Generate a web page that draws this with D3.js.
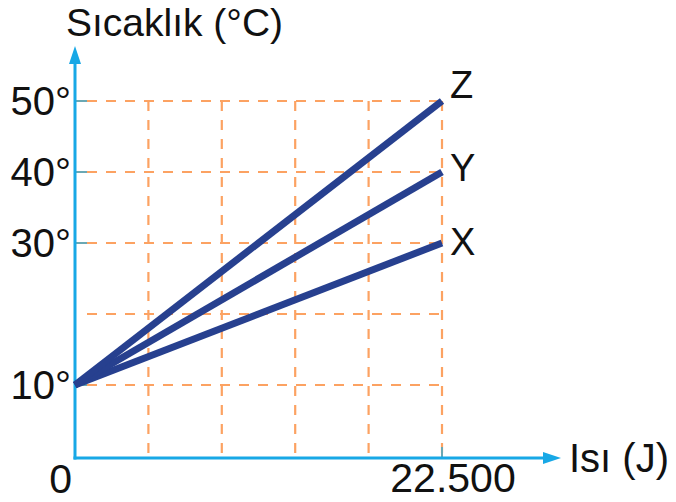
<!DOCTYPE html>
<html><head><meta charset="utf-8">
<script src="https://cdn.jsdelivr.net/npm/d3@7"></script>
<style>body{margin:0;background:#fff}svg{display:block}text{font-family:"Liberation Sans",Arial,sans-serif;fill:#111}</style>
</head><body><svg id="c" width="676" height="502"></svg>
<script>
const xGrid = [4500, 9000, 13500, 18000, 22500];
const yGrid = [10, 20, 30, 40, 50];
const yTickLabels = [10, 30, 40, 50];
const series = ["X", "Y", "Z"];
const startQ = [0, 0, 0];
const startT = [10, 10, 10];
const endQ = [22500, 22500, 22500];
const endT = [30, 40, 50];

const svg = d3.select("#c");
const x = d3.scaleLinear().domain([0, 22500]).range([75, 442]);
const y = d3.scaleLinear().domain([10, 50]).range([385, 101]);
const axisY = 458, axisX = 75;
const blue = "#18a8e6", orange = "#fca262", navy = "#27408f";

// grid
svg.append("g").selectAll("line").data(xGrid).join("line")
  .attr("x1", d => x(d)).attr("x2", d => x(d))
  .attr("y1", y(50)).attr("y2", axisY)
  .attr("stroke", orange).attr("stroke-width", 2.2).attr("stroke-dasharray", "10,9");
svg.append("g").selectAll("line").data(yGrid).join("line")
  .attr("x1", axisX + 12).attr("x2", x(22500))
  .attr("y1", d => y(d)).attr("y2", d => y(d))
  .attr("stroke", orange).attr("stroke-width", 2.2).attr("stroke-dasharray", "10,9");

// ticks
svg.append("g").selectAll("line").data(yTickLabels).join("line")
  .attr("x1", axisX).attr("x2", axisX + 12)
  .attr("y1", d => y(d)).attr("y2", d => y(d))
  .attr("stroke", "#6aa8b4").attr("stroke-width", 2);
svg.append("line").attr("x1", x(22500)).attr("x2", x(22500))
  .attr("y1", axisY - 11).attr("y2", axisY)
  .attr("stroke", "#6aa8b4").attr("stroke-width", 2);

// axes
svg.append("line").attr("x1", axisX).attr("x2", axisX).attr("y1", axisY + 1.5).attr("y2", 60)
  .attr("stroke", blue).attr("stroke-width", 3);
svg.append("path").attr("d", `M${axisX},46 L${axisX - 6},64 L${axisX + 6},64 Z`).attr("fill", blue);
svg.append("line").attr("x1", axisX - 1.5).attr("x2", 546).attr("y1", axisY).attr("y2", axisY)
  .attr("stroke", blue).attr("stroke-width", 3);
svg.append("path").attr("d", `M561,${axisY} L543,${axisY - 6} L543,${axisY + 6} Z`).attr("fill", blue);

// lines
const data = series.map((s, i) => ({ s, pts: [[startQ[i], startT[i]], [endQ[i], endT[i]]] }));
const line = d3.line().x(d => x(d[0])).y(d => y(d[1]));
svg.append("g").selectAll("path").data(data).join("path")
  .attr("d", d => line(d.pts)).attr("fill", "none")
  .attr("stroke", navy).attr("stroke-width", 7).attr("stroke-linecap", "butt");

// series labels
svg.append("g").selectAll("text").data(data).join("text")
  .attr("x", 450).attr("y", d => y(d.pts[1][1]) + 13 - (d.s === "Z" ? 16 : d.s === "Y" ? 4 : 1))
  .attr("font-size", 38).text(d => d.s);

// tick labels
svg.append("g").selectAll("text").data(yTickLabels).join("text")
  .attr("x", 71).attr("y", d => y(d) + 14).attr("text-anchor", "end")
  .attr("font-size", 40).text(d => d + "°");
svg.append("text").attr("x", 72).attr("y", 493).attr("text-anchor", "end").attr("font-size", 41).text("0");
svg.append("text").attr("x", 453).attr("y", 492).attr("text-anchor", "middle").attr("font-size", 41)
  .text(d3.format(",")(22500).replace(",", "."));

// axis titles
svg.append("text").attr("x", 66).attr("y", 36).attr("font-size", 39).text("Sıcaklık (°C)");
svg.append("text").attr("x", 569).attr("y", 472).attr("font-size", 40).text("Isı (J)");
</script></body></html>
